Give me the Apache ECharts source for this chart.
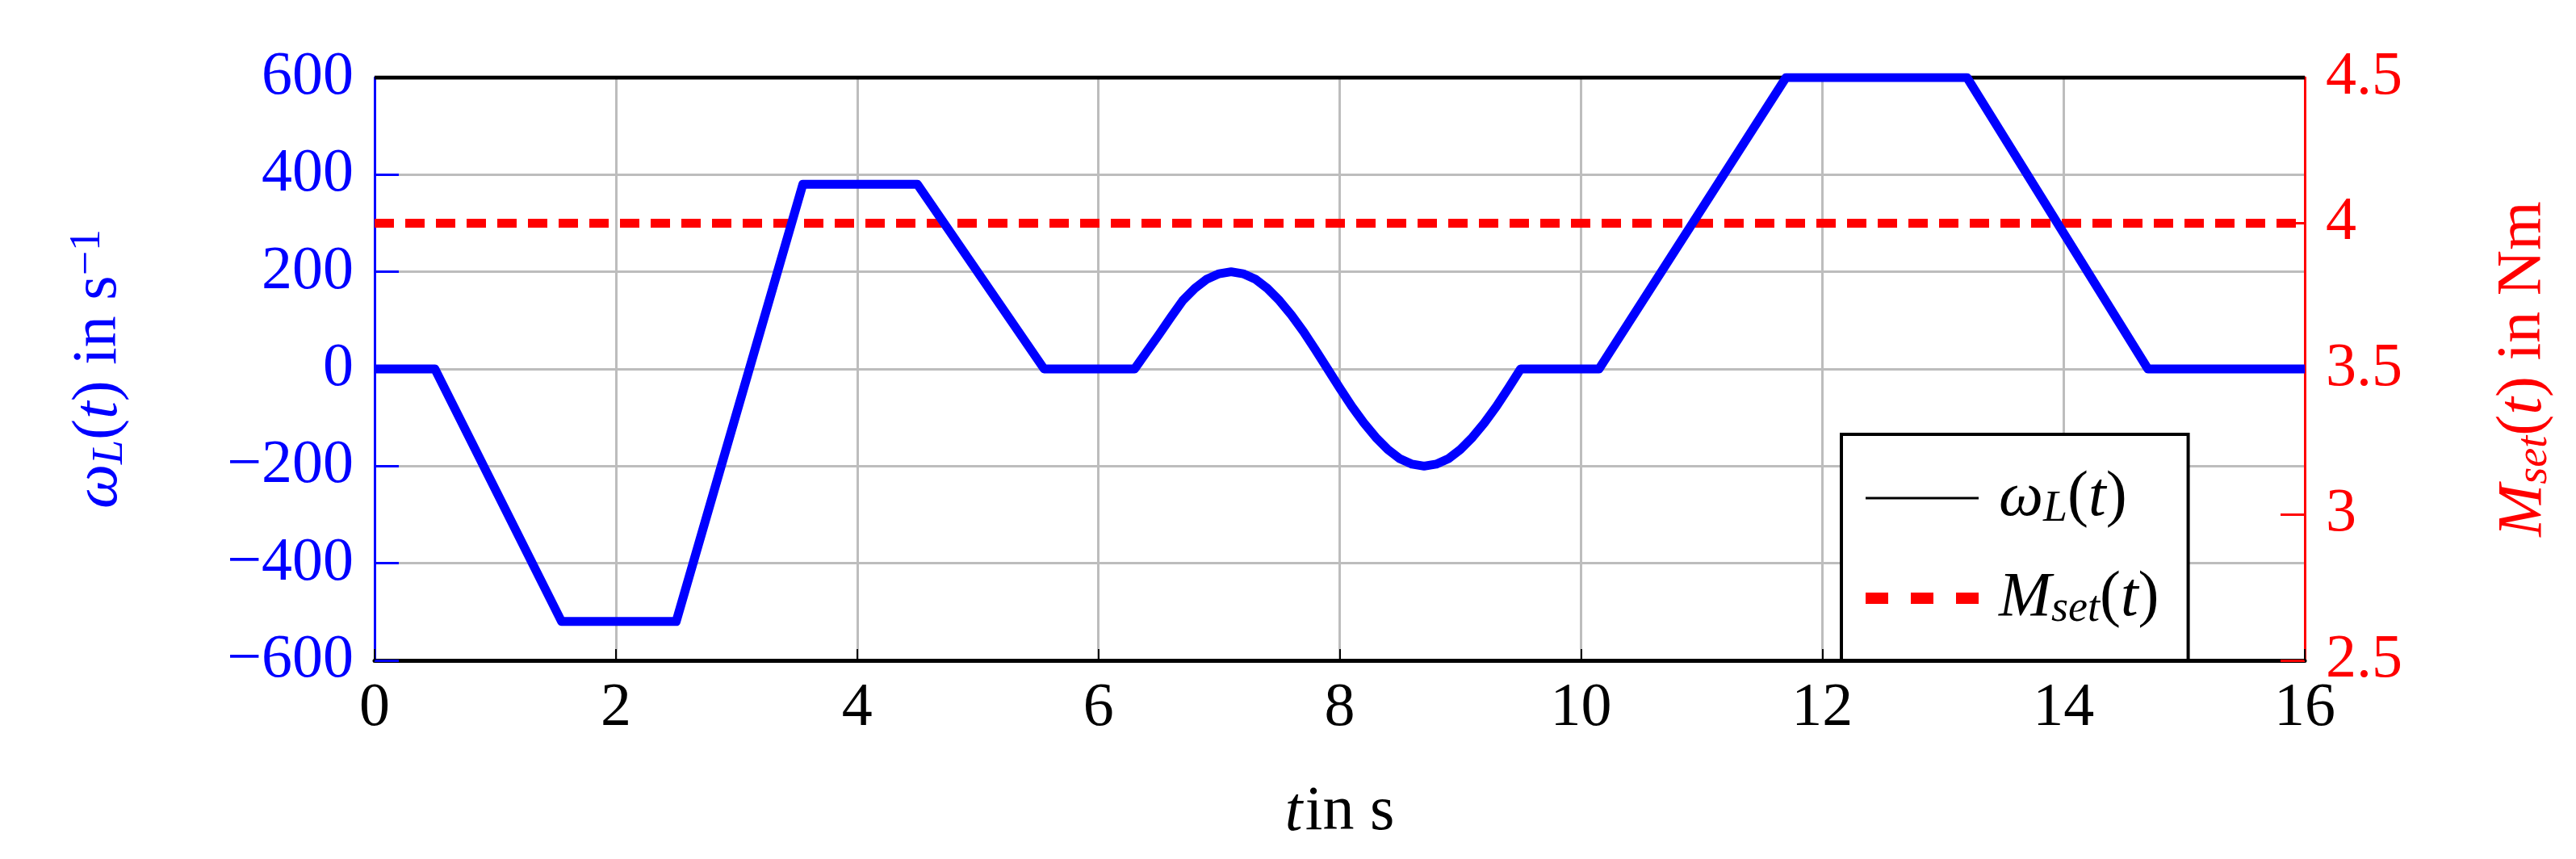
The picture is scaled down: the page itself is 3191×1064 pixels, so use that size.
<!DOCTYPE html>
<html><head><meta charset="utf-8">
<script src="https://cdn.jsdelivr.net/npm/echarts@6/dist/echarts.min.js"></script>
<style>html,body{margin:0;background:#fff}#c{width:3191px;height:1064px}</style>
</head><body><div id="c"></div>
<script>
const omegaData = [[0,0],[0.5,0],[1.55,-520],[2.5,-520],[3.55,380],[4.5,380],[5.55,0],[6.3,0],
 [6.4,35],[6.5,70],[6.6,106],[6.7,141],[6.8,166],[6.9,185],[7.0,196],[7.1,200],[7.2,196],[7.3,185],[7.4,166],[7.5,141],[7.6,111],[7.7,77],[7.8,39],[7.9,0],
 [8.0,-39],[8.1,-77],[8.2,-111],[8.3,-141],[8.4,-166],[8.5,-185],[8.6,-196],[8.7,-200],[8.8,-196],[8.9,-185],[9.0,-166],[9.1,-141],[9.2,-111],[9.3,-77],[9.4,-39],[9.5,0],
 [10.15,0],[11.7,600],[13.2,600],[14.7,0],[16,0]];
const msetData = [[0,4],[16,4]];
const F = 'Liberation Serif';
const rich = {
  i:{fontFamily:F,fontStyle:'italic',fontSize:78},
  s:{fontFamily:F,fontStyle:'italic',fontSize:54,verticalAlign:'bottom',padding:[28,0,0,0]},
  p:{fontFamily:F,fontSize:54,verticalAlign:'top',padding:[0,0,28,0]},
  n:{fontFamily:F,fontSize:78}
};
const cp = ()=>JSON.parse(JSON.stringify(rich));
const chart = echarts.init(document.getElementById('c'));
chart.setOption({
  animation:false,
  grid:{left:464,right:336,top:96,bottom:246,show:false},
  xAxis:{type:'value',min:0,max:16,interval:2,
    name:'{i|t} {n|in s}',nameLocation:'middle',nameGap:150,nameTextStyle:{rich:cp(),color:'#000'},
    axisLine:{show:true,onZero:false,lineStyle:{color:'#000',width:5}},
    axisTick:{inside:true,length:14,lineStyle:{color:'#000',width:2}},
    axisLabel:{fontFamily:F,fontSize:76,color:'#000',margin:22},
    splitLine:{lineStyle:{color:'#bdbdbd',width:3}}},
  yAxis:[{type:'value',min:-600,max:600,interval:200,
    name:'{i|ω}{s|L}{n|(}{i|t}{n|) in s}{p|−1}',nameLocation:'middle',nameGap:300,nameRotate:90,
    nameTextStyle:{rich:cp(),color:'#00f'},
    axisLine:{show:true,lineStyle:{color:'#00f',width:3}},
    axisTick:{show:true,inside:true,length:30,lineStyle:{color:'#00f',width:3}},
    axisLabel:{fontFamily:F,fontSize:76,color:'#00f',margin:26,formatter:v=>String(v).replace('-','−')},
    splitLine:{lineStyle:{color:'#bdbdbd',width:3}}},
   {type:'value',min:2.5,max:4.5,interval:0.5,position:'right',
    name:'{i|M}{s|set}{n|(}{i|t}{n|) in Nm}',nameLocation:'middle',nameGap:230,nameRotate:90,
    nameTextStyle:{rich:cp(),color:'#f00'},
    axisLine:{show:true,lineStyle:{color:'#f00',width:3}},
    axisTick:{show:true,inside:true,length:30,lineStyle:{color:'#f00',width:3}},
    axisLabel:{fontFamily:F,fontSize:76,color:'#f00',margin:26},
    splitLine:{show:false}}],
  legend:{orient:'vertical',left:2281,top:538,width:500,itemGap:44,padding:[40,36,36,30],
    borderColor:'#000',borderWidth:4,backgroundColor:'#fff',itemWidth:140,itemHeight:22,
    textStyle:{rich:cp(),color:'#000',padding:[0,0,0,20]},
    formatter:n=>n==='omega'?'{i|ω}{s|L}{n|(}{i|t}{n|)}':'{i|M}{s|set}{n|(}{i|t}{n|)}',
    data:[{name:'omega',icon:'path://M0,0L100,0L100,2L0,2Z',itemStyle:{color:'#000'}},
          {name:'mset',icon:'path://M0,0L20,0L20,10L0,10ZM40,0L60,0L60,10L40,10ZM80,0L100,0L100,10L80,10Z',itemStyle:{color:'#f00'}}]},
  series:[
    {name:'omega',type:'line',yAxisIndex:0,data:omegaData,showSymbol:false,symbol:'none',
      lineStyle:{color:'#00f',width:11,join:'round'},itemStyle:{color:'#00f'},z:3},
    {name:'mset',type:'line',yAxisIndex:1,data:msetData,showSymbol:false,symbol:'none',
      lineStyle:{color:'#f00',width:11,type:[24,14]},itemStyle:{color:'#f00'},z:2},
    {type:'line',yAxisIndex:0,data:[[0,600],[16,600]],symbol:'none',silent:true,
      lineStyle:{color:'#000',width:5},z:1}
  ]
});
</script></body></html>
